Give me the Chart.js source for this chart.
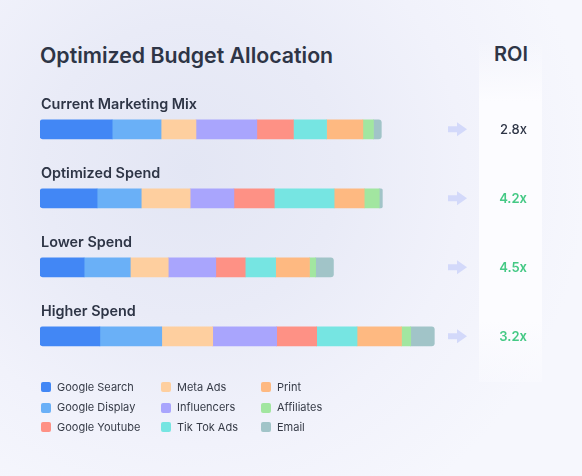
<!DOCTYPE html>
<html><head><meta charset="utf-8">
<script src="https://cdn.jsdelivr.net/npm/chart.js@4.4.1/dist/chart.umd.min.js"></script>
<style>
html,body{margin:0;padding:0;width:582px;height:476px;overflow:hidden;}
body{background:#f6f7fd;font-family:Inter,"Open Sans",sans-serif;position:relative;}
#bg{position:absolute;left:0;top:0;width:582px;height:476px;background:radial-gradient(circle at 190px 170px,#e3e6f4 0%,#e9ebf7 30%,#f1f2fb 55%,#f6f7fd 80%);}
#band{position:absolute;left:479px;top:40px;width:63px;height:342px;background:linear-gradient(rgba(252,252,255,0),#fcfcff 18%,#fcfcff 82%,rgba(252,252,255,0.3));}
#c{position:absolute;left:0;top:0;}
#title{position:absolute;left:40px;top:42px;font-size:21.3px;font-weight:600;color:#2e3546;white-space:nowrap;}
#roiHead{position:absolute;left:480px;width:62px;top:42px;text-align:center;font-size:20px;font-weight:600;color:#2e3546;}
#legend{position:absolute;left:0;top:0;}
.li{position:absolute;font-size:11px;color:#363b47;white-space:nowrap;line-height:14px;}
.sw{position:absolute;width:10px;height:10px;border-radius:2px;}
</style></head>
<body>
<div id="bg"></div>
<div id="band"></div>
<div id="title">Optimized Budget Allocation</div>
<div id="roiHead">ROI</div>
<canvas id="c" width="582" height="476"></canvas>
<div id="legend"></div>
<script>
const scenarios = ['Current Marketing Mix','Optimized Spend','Lower Spend','Higher Spend'];
const roiLabels = ['2.8x','4.2x','4.5x','3.2x'];
const roiHighlight = [false,true,true,true];
const channels = ['Google Search','Google Display','Meta Ads','Influencers','Google Youtube','Tik Tok Ads','Print','Affiliates','Email'];
const channelColors = ['#4287f5','#6ab0f7','#fecf9f','#a9a5fd','#fe9185','#76e5e2','#feb981','#a2e6a0','#a1c4c8'];
const googleSearch  = [21.1,16.7,12.9,17.5];
const googleDisplay = [14.3,12.9,13.5,18.1];
const metaAds       = [10.2,14.3,11.1,14.9];
const influencers   = [17.8,12.8,13.9,18.7];
const googleYoutube = [10.7,11.8,8.6,11.7];
const tikTokAds     = [9.7,17.5,8.9,11.8];
const print         = [10.6,8.8,9.9,13.0];
const affiliates    = [3.1,4.4,1.8,2.7];
const email         = [2.3,0.9,5.2,6.9];
const seriesValues = [googleSearch,googleDisplay,metaAds,influencers,googleYoutube,tikTokAds,print,affiliates,email];
const legendOrder = ['Google Search','Google Display','Google Youtube','Meta Ads','Influencers','Tik Tok Ads','Print','Affiliates','Email'];

const last = channels.length-1;
const datasets = channels.map((name,i)=>({
  label:name,
  data:seriesValues[i],
  backgroundColor:channelColors[i],
  borderWidth:0,
  borderSkipped:false,
  borderRadius: i===0 ? {topLeft:3,bottomLeft:3,topRight:0,bottomRight:0}
              : i===last ? {topLeft:0,bottomLeft:0,topRight:3,bottomRight:3} : 0,
  barThickness:19
}));

const decor = {
  id:'decor',
  afterDatasetsDraw(chart){
    const ctx = chart.ctx, y = chart.scales.y;
    ctx.save();
    scenarios.forEach((s,i)=>{
      const yc = y.getPixelForValue(i);
      ctx.font = '600 14.4px Inter, "Open Sans", sans-serif';
      ctx.fillStyle = '#2e3546';
      ctx.textAlign = 'left';
      ctx.textBaseline = 'alphabetic';
      ctx.fillText(s, 41, yc - 20);
      ctx.fillStyle = '#d3d9fa';
      ctx.beginPath();
      ctx.moveTo(448, yc-3);
      ctx.lineTo(457, yc-3);
      ctx.lineTo(457, yc-7);
      ctx.lineTo(467, yc);
      ctx.lineTo(457, yc+7);
      ctx.lineTo(457, yc+3);
      ctx.lineTo(448, yc+3);
      ctx.closePath();
      ctx.fill();
      ctx.font = (roiHighlight[i] ? '600 ' : '500 ') + '13px Inter, "Open Sans", sans-serif';
      ctx.fillStyle = roiHighlight[i] ? '#45c985' : '#2e3546';
      ctx.textAlign = 'right';
      ctx.textBaseline = 'middle';
      ctx.fillText(roiLabels[i], 527, yc+0.5);
    });
    ctx.restore();
  }
};

new Chart(document.getElementById('c'),{
  type:'bar',
  data:{labels:scenarios,datasets},
  options:{
    indexAxis:'y',
    responsive:false,
    animation:false,
    layout:{padding:{left:40,right:131.6,top:94.8,bottom:105.2}},
    scales:{
      x:{stacked:true,display:false,min:0,max:120},
      y:{stacked:true,display:false}
    },
    plugins:{legend:{display:false},tooltip:{enabled:false}}
  },
  plugins:[decor]
});

const lg = document.getElementById('legend');
const colX = [41,161,261], rowY = [387.3,407.5,427.3];
legendOrder.forEach((name,k)=>{
  const col = Math.floor(k/3), row = k%3;
  const ci = channels.indexOf(name);
  const sw = document.createElement('div');
  sw.className='sw';
  sw.style.left = colX[col]+'px';
  sw.style.top = (rowY[row]-5)+'px';
  sw.style.background = channelColors[ci];
  lg.appendChild(sw);
  const t = document.createElement('div');
  t.className='li';
  t.textContent = name;
  t.style.left = (colX[col]+16)+'px';
  t.style.top = (rowY[row]-7.5)+'px';
  lg.appendChild(t);
});
</script>
</body></html>
